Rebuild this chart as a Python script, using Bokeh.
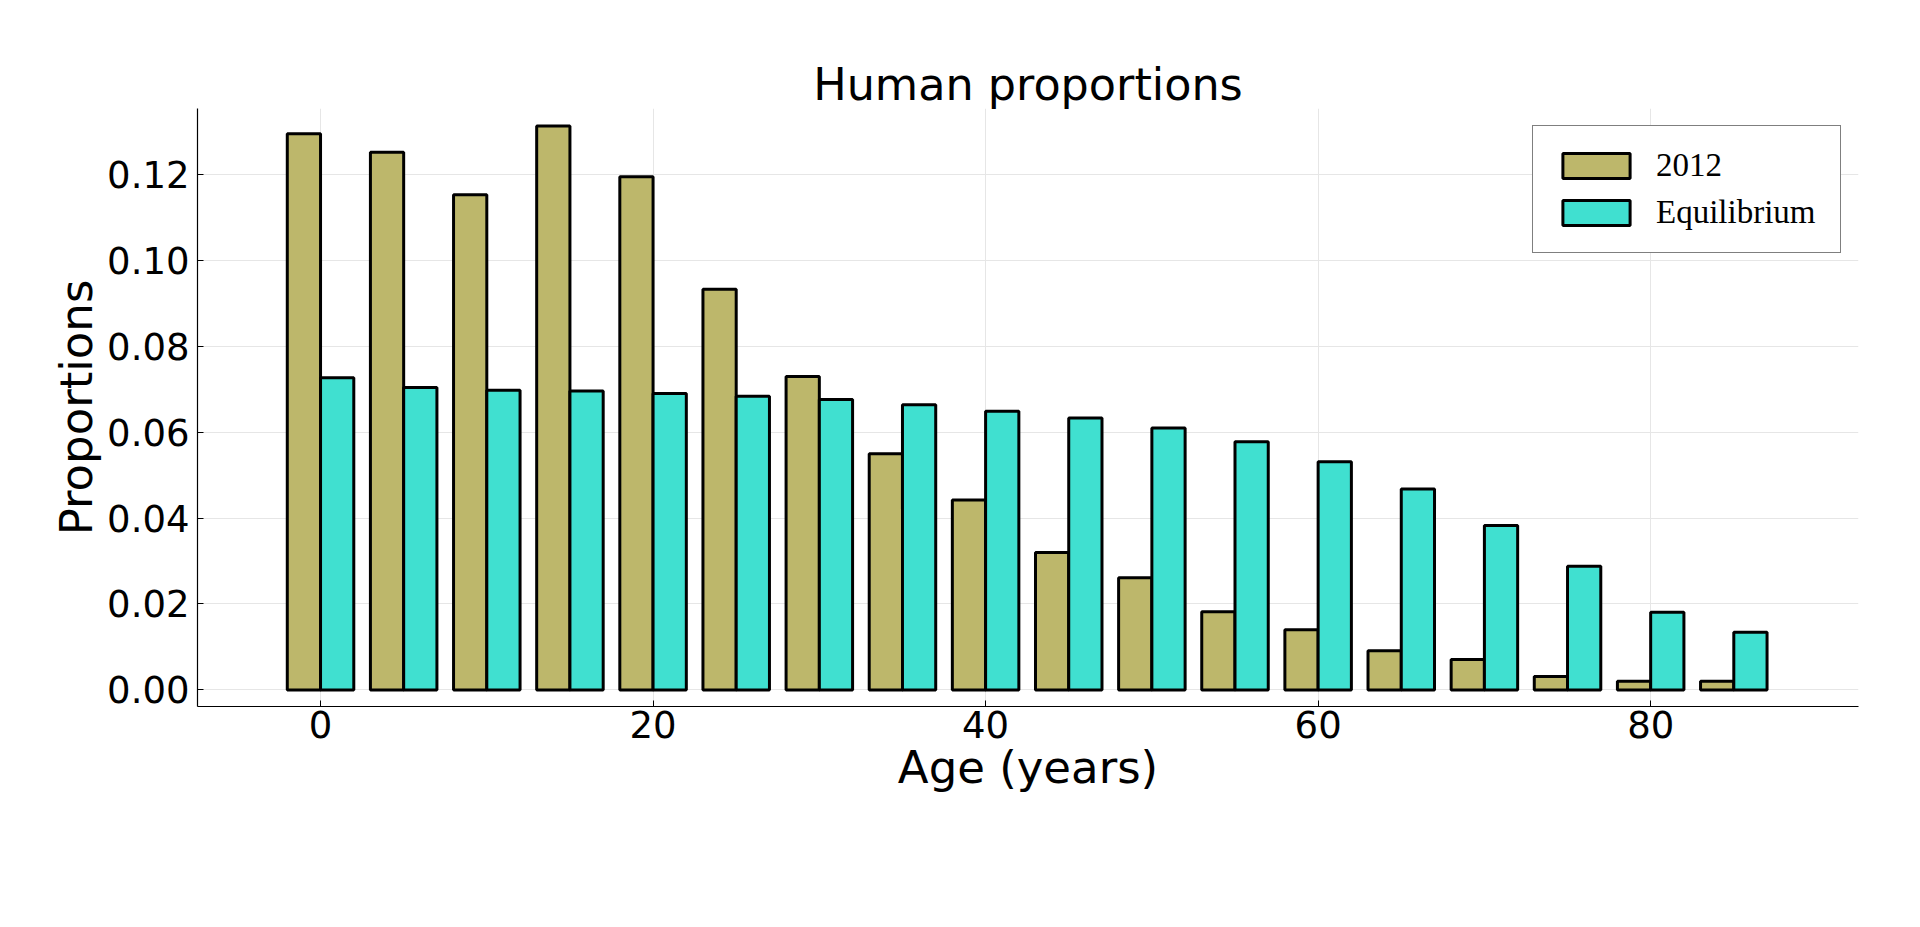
from bokeh.plotting import figure
from bokeh.models import FixedTicker, Range1d, NumeralTickFormatter, Legend, LegendItem
from bokeh.embed import file_html
from bokeh.resources import INLINE

ages = [0, 5, 10, 15, 20, 25, 30, 35, 40, 45, 50, 55, 60, 65, 70, 75, 80, 85]
prop_2012 = [0.1295, 0.1252, 0.1153, 0.1313, 0.1195, 0.0933, 0.0730, 0.0550, 0.0442,
             0.0320, 0.0261, 0.0182, 0.0140, 0.0091, 0.0071, 0.0031, 0.0020, 0.0020]
prop_equil = [0.0727, 0.0704, 0.0698, 0.0696, 0.0690, 0.0684, 0.0676, 0.0664, 0.0649,
              0.0633, 0.0610, 0.0578, 0.0531, 0.0468, 0.0383, 0.0288, 0.0181, 0.0134]
series_names = ["2012", "Equilibrium"]
x_ticks = [0, 20, 40, 60, 80]
y_ticks = [0.0, 0.02, 0.04, 0.06, 0.08, 0.10, 0.12]

FONT = "DejaVu Sans"

p = figure(width=1904, height=911, output_backend="svg", toolbar_location=None,
           x_range=Range1d(-7.4, 92.5), y_range=Range1d(-0.00387, 0.13538),
           min_border_left=197, min_border_right=46, min_border_top=108,
           min_border_bottom=205)

bw = 2.0
r1 = p.vbar(x=[a - bw / 2 for a in ages], top=prop_2012, width=bw, bottom=0,
            fill_color="#BDB76B", line_color="black", line_width=3)
r2 = p.vbar(x=[a + bw / 2 for a in ages], top=prop_equil, width=bw, bottom=0,
            fill_color="#40E0D0", line_color="black", line_width=3)

legend = Legend(items=[LegendItem(label=series_names[0], renderers=[r1]),
                       LegendItem(label=series_names[1], renderers=[r2])],
                location="top_right")
legend.margin = 17
legend.padding = 21
legend.spacing = 10
legend.glyph_width = 84
legend.glyph_height = 31
legend.label_standoff = 18
legend.label_width = 163
legend.label_text_font = "Liberation Serif"
legend.label_text_font_size = "33px"
legend.label_text_color = "black"
legend.border_line_color = "black"
legend.border_line_width = 1
legend.background_fill_alpha = 1.0
p.add_layout(legend)

p.title.text = "Human proportions"
p.title.align = "center"
p.title.text_font = FONT
p.title.text_font_size = "44.5px"
p.title.text_font_style = "normal"
p.title.text_color = "black"
p.title.standoff = -3

p.outline_line_color = None

p.xaxis.axis_label = "Age (years)"
p.yaxis.axis_label = "Proportions"
for ax in (p.xaxis[0], p.yaxis[0]):
    ax.axis_label_text_font = FONT
    ax.axis_label_text_font_size = "45px"
    ax.axis_label_text_font_style = "normal"
    ax.axis_label_text_color = "black"
    ax.major_label_text_font = FONT
    ax.major_label_text_font_size = "37px"
    ax.major_label_text_color = "black"
    ax.major_tick_in = 6
    ax.major_tick_out = 0
    ax.minor_tick_line_color = None
    ax.axis_line_color = "black"
    ax.axis_line_width = 1.2
    ax.major_tick_line_color = "black"

p.xaxis.ticker = FixedTicker(ticks=x_ticks)
p.yaxis.ticker = FixedTicker(ticks=y_ticks)
p.yaxis.formatter = NumeralTickFormatter(format="0.00")
p.xaxis.major_label_standoff = 4
p.yaxis.major_label_standoff = 8
p.xaxis.axis_label_standoff = 0
p.yaxis.axis_label_standoff = 1

p.xgrid.ticker = FixedTicker(ticks=x_ticks)
p.ygrid.ticker = FixedTicker(ticks=y_ticks)
p.grid.grid_line_color = "#e6e6e6"
p.grid.grid_line_width = 1

open("out.html", "w").write(file_html(p, INLINE))
